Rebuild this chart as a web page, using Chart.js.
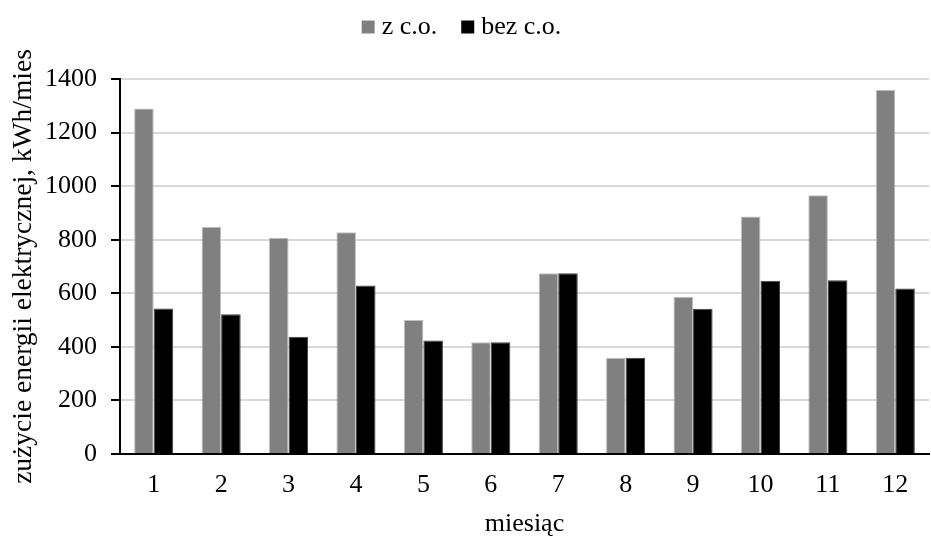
<!DOCTYPE html>
<html>
<head>
<meta charset="utf-8">
<script src="https://cdn.jsdelivr.net/npm/chart.js@4.4.1/dist/chart.umd.min.js"></script>
<style>
  html, body { margin: 0; padding: 0; background: #fff; }
  #wrap { width: 931px; height: 540px; }
</style>
</head>
<body>
<div id="wrap"><canvas id="chart" width="931" height="540"></canvas></div>
<script>
// dane z wykresu
const miesiace = ['1', '2', '3', '4', '5', '6', '7', '8', '9', '10', '11', '12'];
const zCO = [1290, 848, 807, 828, 500, 417, 675, 359, 587, 887, 966, 1359];
const bezCO = [543, 522, 438, 629, 424, 417, 675, 359, 542, 647, 649, 618];
const osY = [0, 200, 400, 600, 800, 1000, 1200, 1400];

const font = "'Liberation Serif', 'Times New Roman', serif";

// wysokość legendy tak, żeby wykres zaczynał się niżej
const legendSpacer = {
    id: 'legendSpacer',
    beforeInit(chart) {
        const fit = chart.legend.fit;
        chart.legend.fit = function () {
            fit.bind(chart.legend)();
            this.height = 95;
        };
    }
};

const ctx = document.getElementById('chart').getContext('2d');
const chart = new Chart(ctx, {
    type: 'bar',
    data: {
        labels: miesiace,
        datasets: [{
            label: 'z c.o.',
            data: zCO,
            backgroundColor: '#808080',
            borderColor: '#bfbfbf',
            borderWidth: 1
        }, {
            label: 'bez c.o.',
            data: bezCO,
            backgroundColor: '#000000',
            borderColor: '#404040',
            borderWidth: 1
        }]
    },
    options: {
        responsive: false,
        animation: false,
        layout: { padding: { left: 0, right: 2, top: -16, bottom: 0 } },
        datasets: {
            bar: { categoryPercentage: 0.58, barPercentage: 1.0 }
        },
        plugins: {
            tooltip: { enabled: false },
            legend: {
                position: 'top',
                labels: {
                    color: '#000',
                    font: { family: font, size: 26 },
                    usePointStyle: true,
                    pointStyle: 'rect',
                    boxWidth: 1,
                    boxHeight: 13,
                    padding: 30,
                    generateLabels: (c) => c.data.datasets.map((d, i) => ({
                        text: d.label,
                        fillStyle: d.backgroundColor,
                        strokeStyle: d.backgroundColor,
                        lineWidth: 0,
                        pointStyle: 'rect',
                        hidden: false,
                        datasetIndex: i
                    }))
                }
            }
        },
        scales: {
            x: {
                afterFit: (s) => { s.height = 86; },
                grid: { display: false, drawTicks: false },
                border: { display: true, color: '#000', width: 2 },
                ticks: { color: '#000', font: { family: font, size: 26 }, padding: 16 },
                title: {
                    display: true,
                    text: 'miesiąc',
                    color: '#000',
                    font: { family: font, size: 26 },
                    padding: { top: 0, bottom: 0 }
                }
            },
            y: {
                min: 0,
                max: 1400,
                afterFit: (s) => { s.width = 120; },
                afterBuildTicks: (axis) => { axis.ticks = osY.map(v => ({ value: v })); },
                grid: { color: '#d9d9d9', lineWidth: 2, drawTicks: true, tickLength: 9, tickColor: '#000', tickWidth: 2 },
                border: { display: true, color: '#000', width: 2 },
                ticks: {
                    color: '#000',
                    font: { family: font, size: 26 },
                    padding: 14,
                    callback: (v) => String(v)
                },
                title: {
                    display: true,
                    text: 'zużycie energii elektrycznej, kWh/mies',
                    color: '#000',
                    font: { family: font, size: 27.5 },
                    padding: { top: 7, bottom: 0 }
                }
            }
        }
    },
    plugins: [legendSpacer]
});
</script>
</body>
</html>
